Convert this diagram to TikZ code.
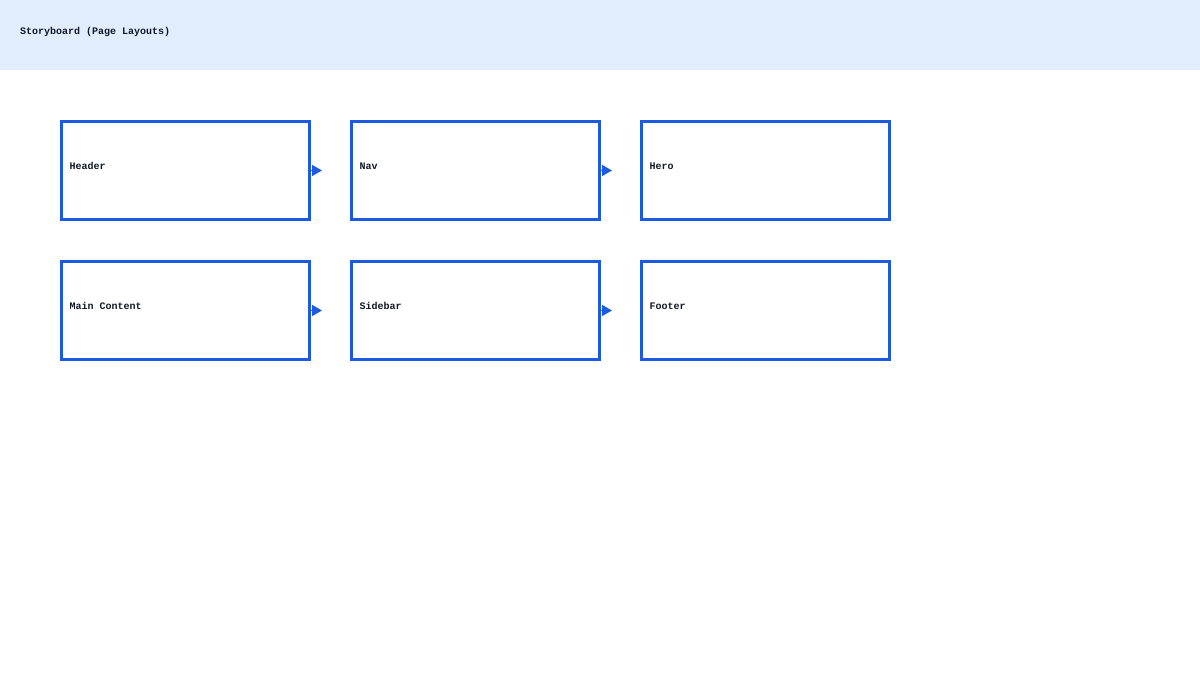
\documentclass[tikz,border=0pt]{standalone}
\usepackage{fontspec}
\setmonofont{Liberation Mono}
\usepackage{tikz}
\usetikzlibrary{arrows.meta,positioning}
\definecolor{bandblue}{HTML}{E1EDFD}
\definecolor{frameblue}{HTML}{1C5BE0}
\definecolor{inkdark}{HTML}{111827}
\tikzset{
  page/.style={draw=frameblue, line width=3pt, minimum width=248pt, minimum height=98pt,
    inner sep=0pt, text=inkdark},
  pagelabel/.style={font=\ttfamily\bfseries\fontsize{10pt}{12pt}\selectfont, text=inkdark,
    anchor=west},
  flow/.style={-{Triangle[length=10pt,width=11pt]}, draw=frameblue, fill=frameblue, line width=1.5pt}
}
\begin{document}
\begin{tikzpicture}[x=1pt,y=-1pt]

  \newcommand\GAP{39pt}

  \useasboundingbox (0,0) rectangle (1200,700);
  \fill[bandblue] (0,0) rectangle (1200,70);
  \node[pagelabel] (title) at (16.5,31.5) {Storyboard (Page Layouts)};

  %% first row
  \node[page] (header) at (185.5,170.5) {};
  \node[page, right=\GAP of header] (nav) {};
  \node[page, right=\GAP of nav] (hero) {};

  %% second row
  \node[page, below=\GAP of header] (main) {};
  \node[page, right=\GAP of main] (sidebar) {};
  \node[page, right=\GAP of sidebar] (footer) {};

  \foreach \p/\t in {header/Header, nav/Nav, hero/Hero,
                     main/Main Content, sidebar/Sidebar, footer/Footer}
    \node[pagelabel] at ([xshift=6pt,yshift=4.5pt]\p.west) {\t};

  %% arrows
  \foreach \p in {header, nav, main, sidebar}
    \draw[flow] (\p.east) -- ([xshift=11pt]\p.east);

\end{tikzpicture}
\end{document}
